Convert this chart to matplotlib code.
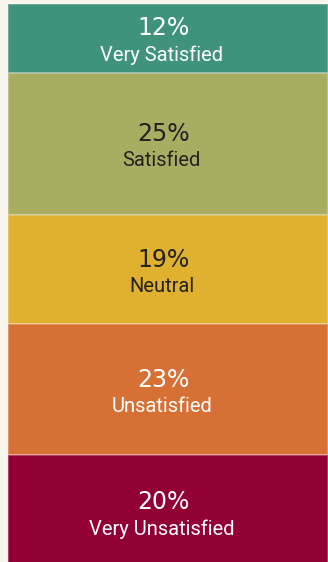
import matplotlib.pyplot as plt

# Survey answer shares, top to bottom
labels = ["Very Satisfied", "Satisfied", "Neutral", "Unsatisfied", "Very Unsatisfied"]
shares = [12, 25, 19, 23, 20]
colors = ["#3f937c", "#a8ad62", "#e0b02f", "#d77035", "#930034"]
text_colors = ["white", "#222222", "#222222", "white", "white"]

fig = plt.figure(figsize=(3.28, 5.62), dpi=100)
fig.patch.set_facecolor("#f8f5ec")
ax = fig.add_axes([8 / 328, 0, 1 - 8 / 328, 558 / 562])

total = sum(shares)
top = total
for lab, val, col, tc in zip(labels, shares, colors, text_colors):
    bottom = top - val
    ax.bar(0, val, bottom=bottom, width=1, color=col,
           edgecolor=(1, 1, 1, 0.3), linewidth=1.2)
    mid = bottom + val / 2
    # labels sit a little left of the bar centre
    ax.text(-0.013, mid + 1.75, f"{val}%", ha="center", va="center",
            fontsize=17, color=tc, family="DejaVu Sans")
    ax.text(-0.02, mid - 2.95, lab, ha="center", va="center",
            fontsize=14.5, color=tc, family="Roboto")
    top = bottom

# the bottom segment runs slightly past the lower edge
ax.set_xlim(-0.5, 0.5)
ax.set_ylim(1.3, total)
ax.axis("off")

fig.savefig("out.png", dpi=100, facecolor=fig.get_facecolor())
